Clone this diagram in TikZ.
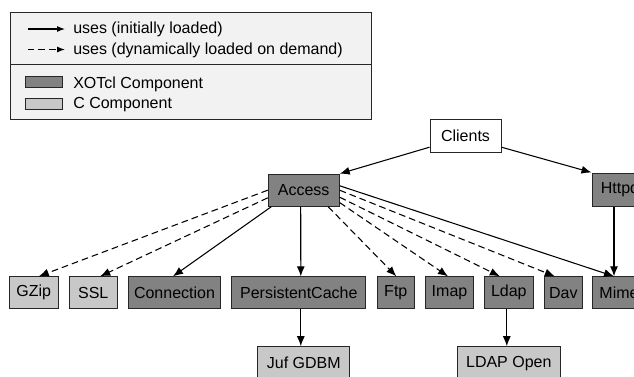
\documentclass[tikz,border=0pt]{standalone}
\usepackage{fontspec}
\setmainfont{Liberation Sans}
\usetikzlibrary{arrows.meta}

\definecolor{xotclgray}{RGB}{130,130,130}
\definecolor{cgray}{RGB}{200,200,200}
\definecolor{legendbg}{RGB}{242,242,242}
\def\px{0.75pt}

\begin{document}
\begin{tikzpicture}[x=0.75pt, y=-0.75pt,
  comp/.style={draw=black!85, line width=0.75pt, minimum height=32*\px, inner sep=0pt, font=\fontsize{12}{14}\selectfont},
  xotcl/.style={comp, fill=xotclgray},
  ccomp/.style={comp, fill=cgray},
  uses/.style={line width=0.8pt, -{Latex[length=7.5pt,width=6pt]}},
  dynuses/.style={uses, dash pattern=on 5pt off 3pt},
  keyarrow/.style={line width=0.8pt, -{Latex[length=6pt,width=4.5pt]}},
  keytext/.style={anchor=base west, inner sep=0pt, font=\fontsize{12}{14}\selectfont}]

\useasboundingbox (0,0) rectangle (634,376);
\clip (0,0) rectangle (634,376);

\draw [draw=black!85, line width=0.75pt, fill=legendbg] (10,12) rectangle (371,119);
\draw [black!85, line width=0.75pt] (10,64.3) -- (371,64.3);

\coordinate (solida) at (27.5,29);
\coordinate (solidb) at (65,29);
\coordinate (dasha) at (27.5,49.5);
\coordinate (dashb) at (65,49.5);
\draw [keyarrow] (solida) -- (solidb);
\draw [keyarrow, dash pattern=on 5pt off 3pt] (dasha) -- (dashb);
\node [keytext] (solidtext) at (73,33.5) {uses (initially loaded)};
\node [keytext] (dashtext) at (73,54) {uses (dynamically loaded on demand)};

\node [xotcl, minimum width=37.5*\px, minimum height=11*\px] (xotclkey) at (44.2,82.2) {};
\node [ccomp, minimum width=37.5*\px, minimum height=11*\px] (ckey) at (44.2,103.5) {};
\node [keytext] (xotcltext) at (73,88.3) {XOTcl Component};
\node [keytext] (ctext) at (73,108.7) {C Component};

\node [comp, fill=white, minimum width=71*\px, minimum height=33*\px] (clients) at (465.5,135.5) {Clients};
\node [xotcl, minimum width=71*\px] (access) at (303.7,190.2) {Access};
\node [xotcl, minimum width=56*\px, minimum height=33*\px] (httpd) at (620,189.5) {Httpd};

\node [ccomp, minimum width=49*\px] (gzip) at (33.8,292.8) {GZip};
\node [ccomp, minimum width=48*\px] (ssl) at (93.2,292.8) {SSL};
\node [xotcl, minimum width=92*\px] (connection) at (174.5,292.8) {Connection};
\node [xotcl, minimum width=134*\px] (cache) at (298.8,292.8) {PersistentCache};
\node [xotcl, minimum width=37*\px] (ftp) at (395.8,292.8) {Ftp};
\node [xotcl, minimum width=48*\px] (imap) at (449.5,292.8) {Imap};
\node [xotcl, minimum width=49*\px] (ldap) at (508.8,292.8) {Ldap};
\node [xotcl, minimum width=38*\px] (dav) at (563.3,292.8) {Dav};
\node [xotcl, minimum width=53*\px] (mime) at (619,292.8) {Mime};

\node [ccomp, minimum width=92*\px, minimum height=33*\px] (gdbm) at (303.8,363.2) {Juf GDBM};
\node [ccomp, minimum width=103*\px, minimum height=33*\px] (ldapopen) at (508.8,363.2) {LDAP Open};

\draw [uses] (clients.198) -- (access.north east);
\draw [uses] (clients.342) -- (httpd.north west);

\draw [dynuses] (access.west) -- ([xshift=5*\px]gzip.north);
\draw [dynuses] (access.192.5) -- ([xshift=7*\px]ssl.north);
\draw [uses] (access.207.7) -- ([xshift=-1.5*\px]connection.north);
\draw [uses] ([xshift=-3*\px]access.south) -- ([xshift=2*\px]cache.north);
\draw [dynuses] (access.326.5) -- ([xshift=0.5*\px]ftp.north);
\draw [dynuses] (access.341.5) -- ([xshift=-1.5*\px]imap.north);
\draw [dynuses] (access.349) -- ([xshift=-9*\px]ldap.north);
\draw [dynuses] (access.east) -- ([xshift=-8.5*\px]dav.north);
\draw [uses] (access.7) -- ([xshift=-5*\px]mime.north);
\draw [uses] ([xshift=-6*\px]httpd.south) -- ([xshift=-5*\px]mime.north);

\draw [uses] ([xshift=2*\px]cache.south) -- ([xshift=-3*\px]gdbm.north);
\draw [uses] ([xshift=-2*\px]ldap.south) -- ([xshift=-2*\px]ldapopen.north);

\end{tikzpicture}
\end{document}
